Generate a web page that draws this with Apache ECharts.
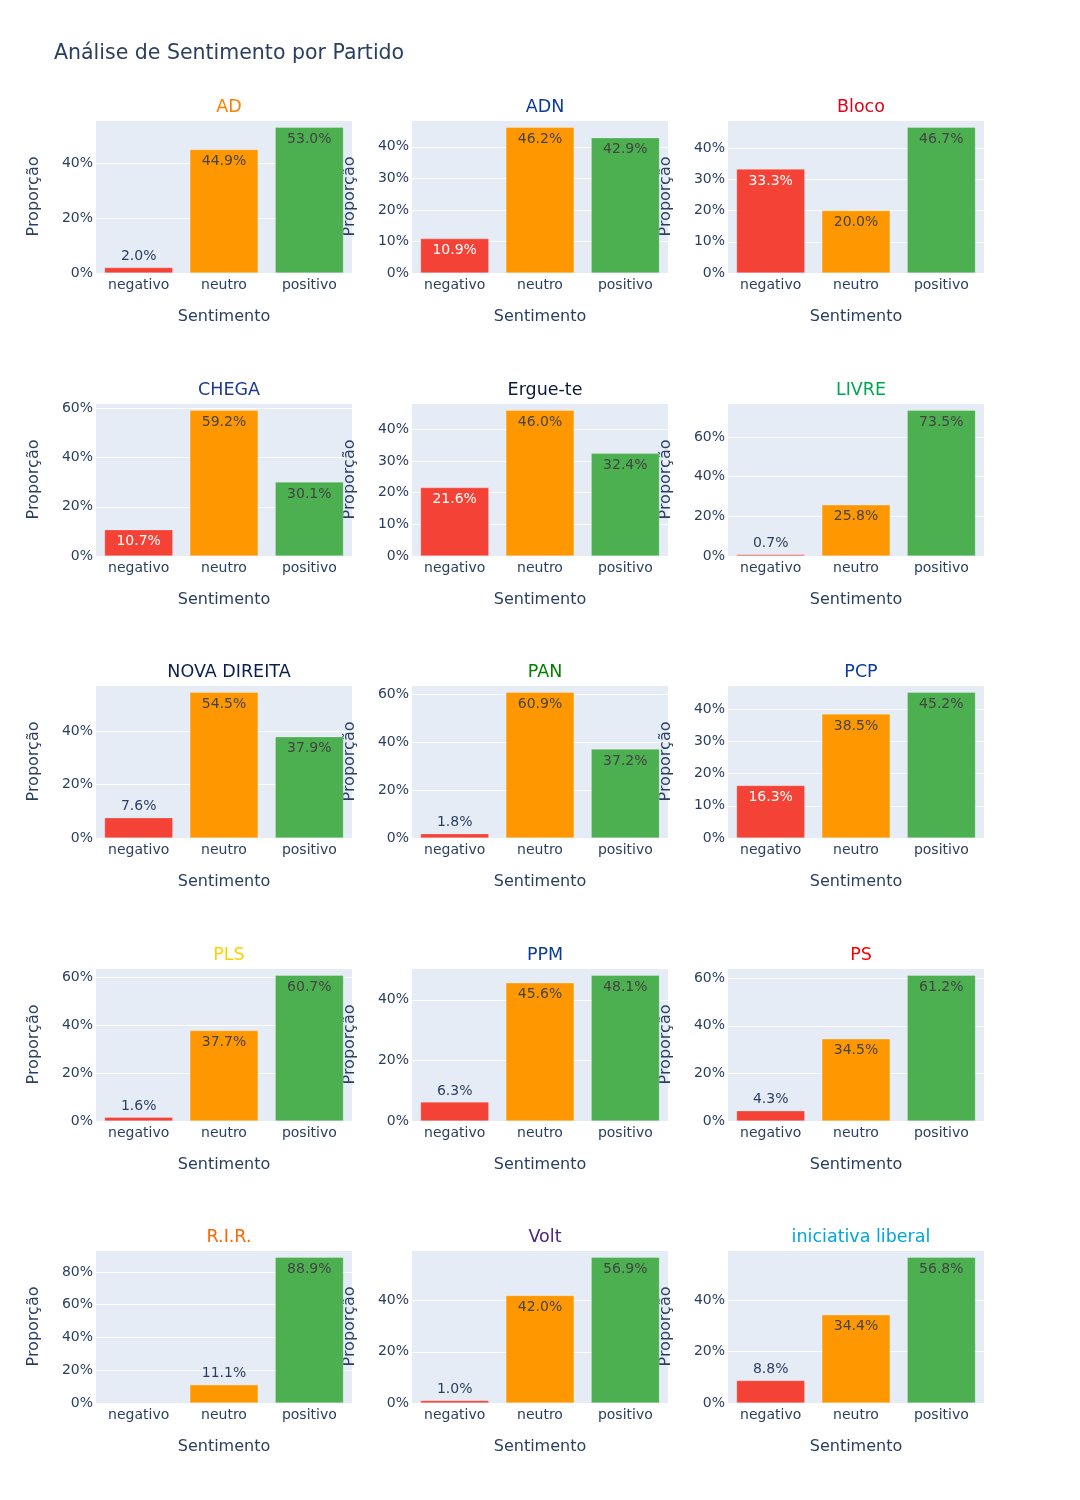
<!DOCTYPE html>
<html>
<head>
<meta charset="utf-8">
<title>Análise de Sentimento por Partido</title>
<script src="https://cdn.jsdelivr.net/npm/echarts@6/dist/echarts.min.js"></script>
<style>
	html, body { margin: 0; padding: 0; background: #fff; }
	#chart { width: 1080px; height: 1500px; }
</style>
</head>
<body>
<div id="chart"></div>
<script>
// dados (percentagens)
var partidos = ['AD', 'ADN', 'Bloco', 'CHEGA', 'Ergue-te', 'LIVRE', 'NOVA DIREITA', 'PAN', 'PCP', 'PLS', 'PPM', 'PS', 'R.I.R.', 'Volt', 'iniciativa liberal'];
var sentimentos = ['negativo', 'neutro', 'positivo'];
var negativo = [2.0, 10.9, 33.3, 10.7, 21.6, 0.7, 7.6, 1.8, 16.3, 1.6, 6.3, 4.3, null, 1.0, 8.8];
var neutro = [44.9, 46.2, 20.0, 59.2, 46.0, 25.8, 54.5, 60.9, 38.5, 37.7, 45.6, 34.5, 11.1, 42.0, 34.4];
var positivo = [53.0, 42.9, 46.7, 30.1, 32.4, 73.5, 37.9, 37.2, 45.2, 60.7, 48.1, 61.2, 88.9, 56.9, 56.8];
// passo dos ticks do eixo y em cada painel
var passos = [20, 10, 10, 20, 10, 20, 20, 20, 10, 20, 20, 20, 20, 20, 20];
var coresTitulo = ['#FF8000', '#0A3C96', '#E2001A', '#1E3A8A', '#0B1A3A', '#00A650', '#0B1F4F', '#008000', '#0A3C96', '#FFD000', '#0A3C96', '#FF0000', '#FF6600', '#502379', '#00A5DC'];
var coresBarra = ['#F44336', '#FF9800', '#4CAF50'];

var fonte = 'DejaVu Sans';
var esquerdas = [96, 412, 728];
var topos = [120, 403, 685, 968, 1250];
var largura = 256, altura = 153;

var myChart = echarts.init(document.getElementById('chart'));

var grids = [], xAxes = [], yAxes = [], series = [];
var titles = [{
	text: 'Análise de Sentimento por Partido',
	left: 49, top: 38,
	textStyle: { fontFamily: fonte, fontSize: 20.5, fontWeight: 'normal', color: '#2a3f5f' }
}];

for (var i = 0; i < partidos.length; i++) {
	var col = i % 3, row = Math.floor(i / 3);
	var vals = [negativo[i], neutro[i], positivo[i]];
	var maximo = Math.max.apply(null, vals.map(function(v) { return v || 0; })) * 1.05;

	grids.push({
		left: esquerdas[col], top: topos[row], width: largura, height: altura,
		show: true, backgroundColor: '#E5ECF6', borderWidth: 0
	});
	titles.push({
		text: partidos[i],
		left: esquerdas[col] + largura / 2, top: topos[row] - 27,
		textAlign: 'center',
		textStyle: { fontFamily: fonte, fontSize: 17.5, fontWeight: 'normal', color: coresTitulo[i] }
	});
	xAxes.push({
		type: 'category', gridIndex: i, data: sentimentos,
		name: 'Sentimento', nameLocation: 'middle', nameGap: 36,
		nameTextStyle: { fontFamily: fonte, fontSize: 16, color: '#2a3f5f' },
		axisLine: { show: false }, axisTick: { show: false },
		axisLabel: { fontFamily: fonte, fontSize: 14, color: '#2a3f5f', margin: 5 }
	});
	yAxes.push({
		type: 'value', gridIndex: i, min: 0, max: maximo, interval: passos[i],
		name: 'Proporção', nameLocation: 'middle', nameGap: 54,
		nameTextStyle: { fontFamily: fonte, fontSize: 16, color: '#2a3f5f' },
		axisLine: { show: false }, axisTick: { show: false },
		axisLabel: { fontFamily: fonte, fontSize: 14, color: '#2a3f5f', margin: 3, showMaxLabel: false,
			formatter: function(v) { return v + '%'; } },
		splitLine: { lineStyle: { color: '#ffffff', width: 1 } }
	});

	var dados = vals.map(function(v, j) {
		// texto dentro da barra quando cabe, senão por cima
		var dentro = v != null && v / maximo * altura >= 24;
		return {
			value: v,
			itemStyle: { color: coresBarra[j], borderColor: 'rgba(255,255,255,0.5)', borderWidth: 0.5 },
			label: {
				show: v != null,
				position: dentro ? 'insideTop' : 'top',
				distance: dentro ? 5 : 4,
				color: dentro ? (j == 0 ? '#ffffff' : '#444444') : '#2a3f5f'
			}
		};
	});
	series.push({
		type: 'bar', xAxisIndex: i, yAxisIndex: i,
		barWidth: '80%', data: dados, animation: false,
		label: { fontFamily: fonte, fontSize: 14,
			formatter: function(p) { return p.value.toFixed(1) + '%'; } }
	});
}

myChart.setOption({
	backgroundColor: '#ffffff',
	title: titles,
	grid: grids,
	xAxis: xAxes,
	yAxis: yAxes,
	series: series
});
</script>
</body>
</html>
